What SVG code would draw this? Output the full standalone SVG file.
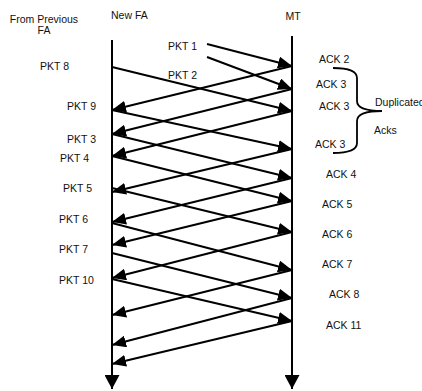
<svg xmlns="http://www.w3.org/2000/svg" width="422" height="391" viewBox="0 0 422 391">
<style>
text{font-family:"Liberation Sans",Arial,sans-serif;font-size:10.5px;fill:#111}
.msg{stroke:#000;stroke-width:2;fill:none;marker-end:url(#ah)}
.life{stroke:#000;stroke-width:2;fill:none;marker-end:url(#lh)}
.brace{stroke:#000;stroke-width:1.8;fill:none}
</style>
<defs>
<marker id="ah" markerUnits="userSpaceOnUse" markerWidth="15" markerHeight="12" refX="14" refY="6" orient="auto" viewBox="0 0 15 12">
<path d="M0,0 L14,6 L0,12 Z" fill="#000"/>
</marker>
<marker id="lh" markerUnits="userSpaceOnUse" markerWidth="15" markerHeight="15" refX="14" refY="7.5" orient="auto" viewBox="0 0 15 15">
<path d="M0,0 L14,7.5 L0,15 Z" fill="#000"/>
</marker>
</defs>
<rect width="422" height="391" fill="#fff"/>
<g id="from-previous-fa">
<text x="44" y="23" text-anchor="middle">From Previous</text>
<text x="44" y="34" text-anchor="middle">FA</text>
</g>
<g id="new-fa">
<text x="111" y="19">New FA</text>
<path class="life" d="M112,40 L112,389"/>
</g>
<g id="mt">
<text x="293" y="20" text-anchor="middle">MT</text>
<path class="life" d="M292,36 L292,389"/>
</g>
<g id="connectors">
<path class="msg" d="M207,44 L292,66"/>
<path class="msg" d="M207,57 L292,89"/>
<path class="msg" d="M112,67 L292,111"/>
<path class="msg" d="M112,110 L292,149"/>
<path class="msg" d="M112,134 L292,178"/>
<path class="msg" d="M112,156 L292,201"/>
<path class="msg" d="M112,188 L292,232"/>
<path class="msg" d="M112,223 L292,270"/>
<path class="msg" d="M112,253 L292,298"/>
<path class="msg" d="M112,279 L292,321"/>
<path class="msg" d="M292,66 L112,110"/>
<path class="msg" d="M292,89 L112,134"/>
<path class="msg" d="M292,111 L112,156"/>
<path class="msg" d="M292,149 L112,192"/>
<path class="msg" d="M292,178 L112,222"/>
<path class="msg" d="M292,201 L112,245"/>
<path class="msg" d="M292,232 L112,278"/>
<path class="msg" d="M292,270 L112,315"/>
<path class="msg" d="M292,298 L112,345"/>
<path class="msg" d="M292,321 L112,364"/>
</g>
<g id="pkt-labels">
<text x="168" y="50">PKT 1</text>
<text x="168" y="79">PKT 2</text>
<text x="40" y="70">PKT 8</text>
<text x="67" y="110">PKT 9</text>
<text x="67" y="143">PKT 3</text>
<text x="60" y="162">PKT 4</text>
<text x="63" y="192">PKT 5</text>
<text x="59" y="223">PKT 6</text>
<text x="59" y="253">PKT 7</text>
<text x="59" y="284">PKT 10</text>
</g>
<g id="ack-labels">
<text x="319" y="63">ACK 2</text>
<text x="316" y="88">ACK 3</text>
<text x="319" y="110">ACK 3</text>
<text x="315" y="148">ACK 3</text>
<text x="326" y="178">ACK 4</text>
<text x="322" y="208">ACK 5</text>
<text x="322" y="238">ACK 6</text>
<text x="322" y="268">ACK 7</text>
<text x="329" y="298">ACK 8</text>
<text x="326" y="329">ACK 11</text>
</g>
<g id="duplicated-acks">
<path class="brace" d="M333,68 Q357,68 357,78 L357,101 Q357,111 382,111 Q357,111 357,121 L357,143 Q357,153 333,153"/>
<text x="375" y="106">Duplicated</text>
<text x="374" y="134">Acks</text>
</g>
</svg>
